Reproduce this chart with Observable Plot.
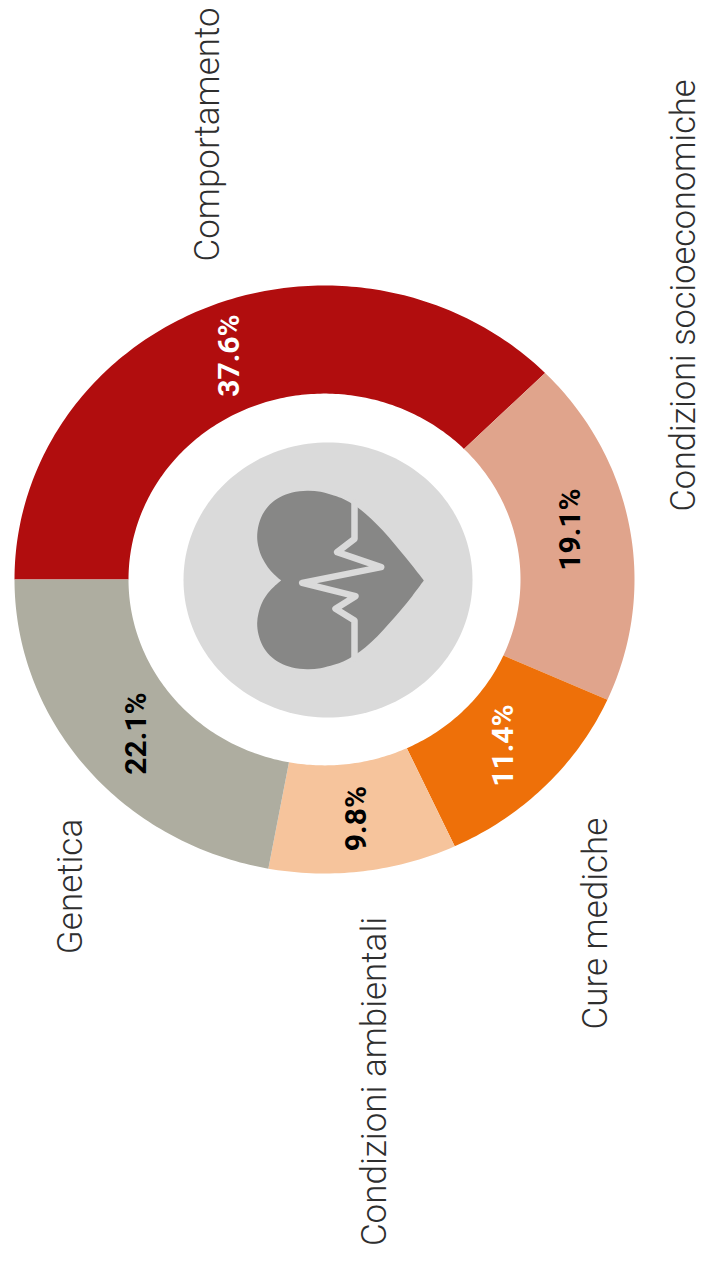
<!DOCTYPE html>
<html><head><meta charset="utf-8">
<script src="https://cdn.jsdelivr.net/npm/d3@7"></script>
<script src="https://cdn.jsdelivr.net/npm/@observablehq/plot@0.6"></script>
<style>html,body{margin:0;padding:0;background:#fff}svg{display:block}</style>
</head><body><div id="chart"></div>
<script>
const categories = ["Comportamento","Condizioni socioeconomiche","Cure mediche","Condizioni ambientali","Genetica"];
const shares = [37.6,19.1,11.4,9.8,22.1];
const colors = ["#b10d0e","#e0a48c","#ee7009","#f6c49c","#aeada0"];
const pctColors = ["#ffffff","#000000","#ffffff","#000000","#000000"];

// Layout: where the picture puts things, in page pixels
const W = 701, H = 1262, cx = 324, cy = 579, rx = 310, ry = 294, holeR = 196/310;
const catPos = [[207,134],[684,295],[595,923],[374,1081],[70,886]];
const catSize = [35,34.3,35,35,35];
const pctPos = [[229,355],[570,529],[503,745],[356,818],[136,733]];
const ux = px => (px - cx) / rx, uy = py => (py - cy) / ry;

// Ring: angles come from shares, clockwise from the left
const ring = [];
let cum = 0;
categories.forEach((name, i) => {
  const a0 = cum / 100 * 2 * Math.PI, a1 = (cum + shares[i]) / 100 * 2 * Math.PI;
  const n = Math.ceil(shares[i] * 4);
  for (let k = 0; k <= n; k++) { const a = a0 + (a1 - a0) * k / n; ring.push({name, u: -Math.cos(a), v: -Math.sin(a)}); }
  for (let k = n; k >= 0; k--) { const a = a0 + (a1 - a0) * k / n; ring.push({name, u: -holeR * Math.cos(a), v: -holeR * Math.sin(a)}); }
  cum += shares[i];
});

// Grey disc
const discCx = 327.5, discCy = 579.5, discRx = 144.5, discRy = 137.5;
const disc = d3.range(0, 361, 2).map(d => {
  const a = d * Math.PI / 180;
  return {u: ux(discCx + discRx * Math.cos(a)), v: uy(discCy + discRy * Math.sin(a))};
});

// Heart icon outline and pulse trace (corners repeated to stay sharp)
const heartOutline = [[332,450],[332,450],[312,433],[292,410],[275,382],[264,350],[260,320],[264,285],[276,252],[298,222],[328,200],[365,186],[410,181],[450,184],[490,195],[520,206],[552,224],
 [585,250],[620,283],[655,320],[690,362],[725,405],[760,450],[760,450],[725,497],[690,540],[655,580],[620,618],[585,650],[552,674],[520,692],[490,703],[450,713],[410,716],[365,711],[328,697],[298,675],[276,645],[264,612],[260,578],[264,548],[275,516],[292,488],[312,467],[332,450],[332,450]];
const pulse = [[552,215],[552,325],[500,365],[632,410],[395,457],[555,497],[495,535],[552,570],[552,685]];
const toPx = ([a, b]) => ({u: ux(170 + a / 3), v: uy(430 + b / 3)});

const catRows = categories.map((name, i) => ({name, s: catSize[i], u: ux(catPos[i][0]), v: uy(catPos[i][1])}));
const pctRows = categories.map((name, i) => ({t: shares[i].toFixed(1) + "%", c: pctColors[i], u: ux(pctPos[i][0]), v: uy(pctPos[i][1])}));

const chart = Plot.plot({
  width: W, height: H, margin: 0,
  style: {background: "#fff"},
  x: {domain: [ux(0), ux(W)], range: [0, W], axis: null},
  y: {domain: [uy(0), uy(H)], range: [0, H], axis: null},
  color: {domain: categories, range: colors},
  marks: [
    Plot.line(ring, {x: "u", y: "v", z: "name", fill: "name", stroke: "none"}),
    Plot.line(disc, {x: "u", y: "v", fill: "#dadada", stroke: "none"}),
    Plot.line(heartOutline.map(toPx), {x: "u", y: "v", fill: "#878786", stroke: "none", curve: "catmull-rom"}),
    Plot.line(pulse.map(toPx), {x: "u", y: "v", stroke: "#dadada", strokeWidth: 6.5, strokeLinejoin: "round", strokeLinecap: "round"}),
    Plot.text(catRows, {x: "u", y: "v", text: "name", rotate: -90, fontSize: "s", fontFamily: "Roboto", fontWeight: 300, fill: "#2e2e2e", textAnchor: "middle", lineAnchor: "middle"}),
    Plot.text(pctRows, {x: "u", y: "v", text: "t", rotate: -90, fontSize: 30, fontFamily: "Roboto", fontWeight: 700, fill: "c", textAnchor: "middle", lineAnchor: "middle"})
  ]
});
document.getElementById("chart").append(chart);
</script></body></html>
